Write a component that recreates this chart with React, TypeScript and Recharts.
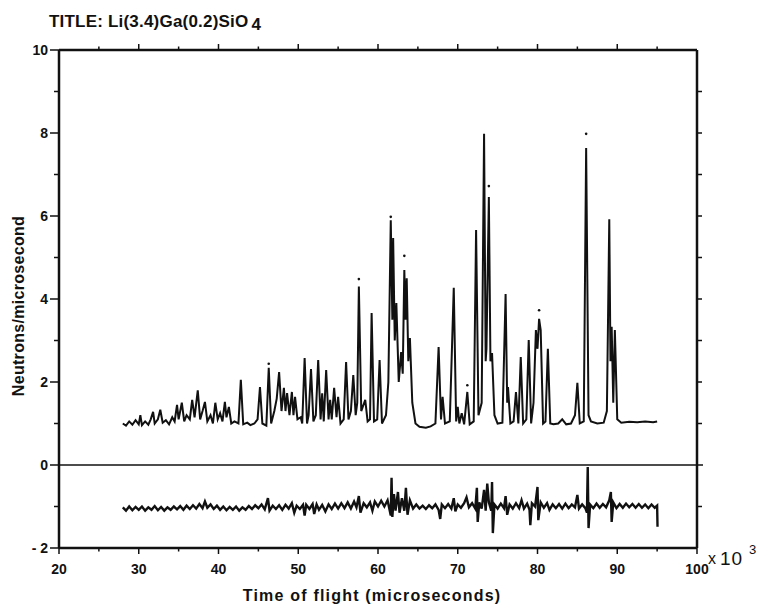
import React from 'react';
import { ComposedChart, Line, XAxis, YAxis, ReferenceLine } from 'recharts';

const xTicks = [20, 25, 30, 35, 40, 45, 50, 55, 60, 65, 70, 75, 80, 85, 90, 95, 100];
const xLabelled = [20, 30, 40, 50, 60, 70, 80, 90, 100];
const yTicks = [-2, -1, 0, 1, 2, 3, 4, 5, 6, 7, 8, 9, 10];
const yLabelled = [-2, 0, 2, 4, 6, 8, 10];

// observed profile: time of flight (x 10^3 microseconds), neutrons/microsecond
const observed: [number, number][] = [
  [28.0, 1.0], [28.4, 0.95], [28.8, 1.05], [29.2, 0.97], [29.6, 1.08], [30.0, 0.98], [30.2, 1.2], [30.4, 0.96],
  [30.8, 1.05], [31.2, 0.97], [31.5, 1.1], [31.8, 1.28], [32.0, 1.0], [32.4, 1.1], [32.7, 1.33], [33.0, 1.02],
  [33.4, 1.08], [33.8, 0.98], [34.2, 1.15], [34.5, 1.05], [34.8, 1.45], [35.0, 1.1], [35.4, 1.5], [35.7, 1.05],
  [36.0, 1.2], [36.4, 1.1], [36.7, 1.57], [37.0, 1.15], [37.4, 1.8], [37.7, 1.1], [38.0, 1.3], [38.3, 1.52],
  [38.6, 1.05], [39.0, 1.2], [39.3, 1.0], [39.6, 1.5], [39.9, 1.1], [40.2, 1.25], [40.5, 1.05], [40.8, 1.52],
  [41.0, 1.15], [41.3, 1.4], [41.6, 1.0], [42.0, 1.05], [42.5, 1.0], [42.8, 2.05], [43.1, 0.98], [43.6, 1.02],
  [44.0, 0.96], [44.5, 1.0], [44.9, 1.1], [45.2, 1.88], [45.5, 1.0], [46.0, 0.95], [46.3, 2.34], [46.6, 1.0],
  [47.0, 1.3], [47.3, 1.6], [47.6, 2.24], [47.9, 1.3], [48.2, 1.86], [48.4, 1.3], [48.6, 1.73], [48.9, 1.2],
  [49.2, 1.76], [49.4, 1.2], [49.6, 1.64], [49.9, 1.1], [50.3, 1.15], [50.5, 1.0], [50.8, 2.58], [51.1, 1.0],
  [51.3, 1.2], [51.6, 2.31], [51.9, 1.05], [52.2, 1.2], [52.5, 2.53], [52.8, 1.1], [53.0, 1.73], [53.2, 1.05],
  [53.5, 2.29], [53.8, 1.1], [54.0, 1.57], [54.2, 1.1], [54.5, 1.86], [54.8, 1.15], [55.0, 1.64], [55.3, 1.0],
  [55.7, 1.1], [56.0, 2.48], [56.3, 1.1], [56.6, 1.3], [56.9, 2.17], [57.2, 1.2], [57.4, 1.5], [57.6, 4.3],
  [57.9, 1.3], [58.4, 1.57], [58.7, 1.05], [59.0, 1.1], [59.2, 3.66], [59.5, 1.05], [59.9, 1.1], [60.2, 2.53],
  [60.5, 1.0], [61.0, 1.2], [61.3, 2.0], [61.6, 5.9], [61.8, 3.5], [61.9, 5.47], [62.1, 3.0], [62.3, 3.9],
  [62.6, 2.0], [62.9, 2.72], [63.1, 2.2], [63.3, 4.7], [63.45, 3.5], [63.6, 4.5], [63.8, 2.5], [64.0, 3.06],
  [64.3, 1.5], [64.7, 1.0], [65.2, 0.92], [66.0, 0.9], [66.6, 0.93], [67.2, 1.0], [67.6, 2.84], [67.9, 1.1],
  [68.1, 1.64], [68.4, 1.0], [69.0, 1.05], [69.5, 4.27], [69.8, 1.05], [70.0, 1.4], [70.2, 1.0], [70.5, 1.25],
  [70.8, 0.98], [71.2, 1.76], [71.5, 0.98], [72.0, 1.05], [72.3, 5.66], [72.6, 1.2], [73.0, 1.5], [73.3, 7.98],
  [73.5, 2.5], [73.6, 2.8], [73.9, 6.46], [74.1, 2.5], [74.3, 2.7], [74.6, 1.2], [75.0, 1.0], [75.6, 1.02],
  [76.0, 4.12], [76.2, 1.5], [76.3, 1.88], [76.6, 1.0], [77.0, 1.05], [77.3, 1.76], [77.6, 1.0], [77.9, 2.6],
  [78.2, 1.0], [78.6, 1.1], [78.9, 3.01], [79.2, 1.0], [79.5, 1.5], [79.8, 3.25], [80.0, 2.8], [80.2, 3.52],
  [80.4, 3.25], [80.7, 1.0], [81.0, 1.05], [81.3, 2.8], [81.6, 1.0], [82.0, 0.98], [82.6, 1.0], [83.1, 1.1],
  [83.6, 0.98], [84.2, 1.0], [84.7, 1.2], [85.0, 1.98], [85.3, 1.0], [85.8, 1.05], [86.1, 7.64], [86.4, 1.2],
  [86.7, 1.05], [87.5, 1.0], [88.3, 1.02], [88.7, 1.3], [89.0, 5.92], [89.15, 2.5], [89.3, 3.33], [89.5, 1.5],
  [89.7, 3.25], [90.0, 1.1], [90.5, 1.02], [91.5, 1.04], [92.5, 1.03], [93.5, 1.05], [94.5, 1.03], [95.0, 1.05],
];

// single observed points above the peak tops
const peakDots: [number, number][] = [
  [46.3, 2.44], [57.6, 4.48], [61.6, 5.98], [63.3, 5.04], [71.2, 1.92], [73.9, 6.72], [80.2, 3.73], [86.1, 7.98],
];

// difference curve (offset to -1)
const difference: [number, number][] = [
  [28.0, -1.02], [28.4, -1.1], [28.8, -1.0], [29.2, -1.09], [29.6, -1.01], [30.0, -1.08], [30.4, -1.0], [30.8, -1.1],
  [31.2, -1.02], [31.6, -1.08], [32.0, -0.99], [32.4, -1.09], [32.8, -1.01], [33.2, -1.1], [33.6, -1.02], [34.0, -1.08],
  [34.4, -1.0], [34.8, -1.07], [35.2, -0.99], [35.6, -1.08], [36.0, -0.98], [36.4, -1.06], [36.8, -0.97], [37.2, -1.05],
  [37.6, -0.94], [38.0, -1.04], [38.3, -0.88], [38.6, -1.03], [39.0, -0.95], [39.4, -1.06], [39.8, -0.98], [40.2, -1.08],
  [40.6, -1.0], [41.0, -1.09], [41.4, -1.01], [41.8, -1.08], [42.2, -1.0], [42.6, -1.1], [43.0, -1.02], [43.4, -1.08],
  [43.8, -0.99], [44.2, -1.06], [44.6, -0.97], [45.0, -1.04], [45.4, -0.95], [45.8, -1.07], [46.2, -0.8], [46.4, -1.1],
  [46.8, -0.98], [47.2, -1.06], [47.6, -0.97], [48.0, -1.08], [48.4, -0.96], [48.8, -1.05], [49.2, -0.92], [49.5, -1.15],
  [49.8, -0.98], [50.2, -1.06], [50.6, -0.96], [50.8, -1.22], [51.0, -0.96], [51.4, -1.06], [51.8, -0.94], [52.0, -1.18],
  [52.3, -0.95], [52.6, -1.08], [53.0, -0.96], [53.4, -1.12], [53.8, -0.95], [54.2, -1.06], [54.6, -0.93], [55.0, -1.05],
  [55.4, -0.92], [55.8, -1.04], [56.2, -0.9], [56.6, -1.05], [57.0, -0.88], [57.3, -1.02], [57.6, -0.75], [57.8, -1.15],
  [58.2, -0.92], [58.6, -1.02], [59.0, -0.9], [59.3, -1.1], [59.6, -0.88], [60.0, -1.0], [60.4, -0.86], [60.8, -1.0],
  [61.2, -0.85], [61.6, -1.22], [61.7, -0.31], [61.8, -1.25], [62.0, -0.7], [62.2, -1.1], [62.5, -0.65], [62.7, -1.15],
  [63.0, -0.8], [63.3, -1.1], [63.5, -0.55], [63.7, -1.2], [64.0, -0.85], [64.4, -1.05], [64.8, -0.95], [65.2, -1.05],
  [65.6, -0.98], [66.0, -1.06], [66.4, -0.97], [66.8, -1.04], [67.2, -0.95], [67.6, -1.08], [67.8, -1.3], [68.0, -0.95],
  [68.4, -1.04], [68.8, -0.94], [69.2, -1.05], [69.5, -0.8], [69.7, -1.12], [70.0, -0.95], [70.4, -1.03], [70.8, -0.92],
  [71.1, -0.78], [71.4, -1.02], [71.8, -0.92], [72.2, -1.05], [72.4, -0.55], [72.5, -1.37], [72.7, -0.9], [73.0, -1.05],
  [73.3, -0.6], [73.5, -1.1], [73.7, -0.45], [73.9, -0.9], [74.2, -1.1], [74.3, -0.41], [74.4, -1.64], [74.6, -0.95],
  [75.0, -1.05], [75.4, -0.93], [75.8, -1.04], [76.0, -0.75], [76.2, -1.2], [76.5, -0.95], [76.9, -1.05], [77.3, -0.92],
  [77.7, -1.04], [78.0, -0.85], [78.3, -1.05], [78.7, -0.93], [79.0, -1.08], [79.1, -1.45], [79.3, -0.92], [79.7, -1.0],
  [80.0, -0.53], [80.1, -1.33], [80.4, -0.9], [80.8, -1.03], [81.2, -0.92], [81.5, -1.08], [81.9, -0.95], [82.3, -1.04],
  [82.7, -0.94], [83.1, -1.05], [83.5, -0.93], [83.9, -1.04], [84.3, -0.95], [84.7, -1.02], [85.0, -0.72], [85.2, -1.05],
  [85.6, -0.95], [86.0, -1.04], [86.2, -1.15], [86.3, -0.05], [86.4, -1.52], [86.6, -0.95], [87.0, -1.04], [87.4, -0.93],
  [87.8, -1.03], [88.2, -0.94], [88.6, -1.02], [89.0, -0.85], [89.2, -0.65], [89.3, -1.37], [89.5, -0.9], [89.9, -1.04],
  [90.3, -0.94], [90.7, -1.03], [91.1, -0.93], [91.5, -1.02], [91.9, -0.94], [92.3, -1.03], [92.7, -0.94], [93.1, -1.03],
  [93.5, -0.95], [93.9, -1.04], [94.3, -0.95], [94.7, -1.03], [95.0, -0.98], [95.05, -1.49],
];

const toRows = (arr: [number, number][]) => arr.map(([t, v]) => ({ t, v }));
const observedRows = toRows(observed);
const differenceRows = toRows(difference);
const dotRows = toRows(peakDots);

const FONT = '"Liberation Sans", Arial, sans-serif';
const INK = '#111';
const CHART_W = 762;
const CHART_H = 598;
const MARGIN = { top: 42, right: 73, bottom: 28, left: 0 };
const Y_AXIS_W = 51;
const X_AXIS_H = 30;
const PLOT_W = CHART_W - MARGIN.left - MARGIN.right - Y_AXIS_W;
const PLOT_H = CHART_H - MARGIN.top - MARGIN.bottom - X_AXIS_H;
const labelStyle = { fontSize: 14, fill: INK, fontFamily: FONT, fontWeight: 700 } as const;

// bottom axis tick: draws bottom tick (outward), matching top-frame tick, and label
const XTick = (props: any) => {
  const { x, y, payload } = props;
  const v = payload.value as number;
  const major = xLabelled.includes(v);
  const topY = y - PLOT_H;
  return (
    <g>
      <line x1={x} x2={x} y1={y} y2={y + (major ? 6 : 3.5)} stroke={INK} strokeWidth={1.5} />
      {v !== 20 && v !== 100 && (
        <line x1={x} x2={x} y1={topY} y2={topY - (major ? 6 : 3.5)} stroke={INK} strokeWidth={1.5} />
      )}
      {major && (
        <text x={x} y={y + 26} textAnchor="middle" {...labelStyle}>{v}</text>
      )}
    </g>
  );
};

// left axis tick: draws left tick (outward), right-frame tick, and label
const YTick = (props: any) => {
  const { x, y, payload } = props;
  const v = payload.value as number;
  const major = yLabelled.includes(v);
  const rightX = x + PLOT_W;
  return (
    <g>
      <line x1={x} x2={x - (major ? 9 : 5)} y1={y} y2={y} stroke={INK} strokeWidth={1.5} />
      {v !== -2 && v !== 10 && (
        <line x1={rightX} x2={rightX + (v === 0 ? 6 : 5)} y1={y} y2={y} stroke={INK} strokeWidth={1.5} />
      )}
      {major && (
        <text x={x - 11} y={y} dy="0.36em" textAnchor="end" {...labelStyle}>{v < 0 ? `- ${Math.abs(v)}` : v}</text>
      )}
    </g>
  );
};

export default function App() {
  return (
    <div style={{ position: 'relative', width: CHART_W, height: CHART_H, fontFamily: FONT, color: INK }}>
      <ComposedChart width={CHART_W} height={CHART_H} margin={MARGIN}>
        <XAxis
          dataKey="t"
          type="number"
          domain={[20, 100]}
          ticks={xTicks}
          interval={0}
          allowDataOverflow
          height={X_AXIS_H}
          tickSize={0}
          tickMargin={0}
          tickLine={false}
          tick={XTick}
          axisLine={{ stroke: INK, strokeWidth: 2.5 }}
        />
        <YAxis
          type="number"
          domain={[-2, 10]}
          ticks={yTicks}
          interval={0}
          allowDataOverflow
          width={Y_AXIS_W}
          tickSize={0}
          tickMargin={0}
          tickLine={false}
          tick={YTick}
          axisLine={{ stroke: INK, strokeWidth: 2.5 }}
        />
        <ReferenceLine y={10} stroke={INK} strokeWidth={2.5} />
        <ReferenceLine x={100} stroke={INK} strokeWidth={2.5} />
        <ReferenceLine y={0} stroke={INK} strokeWidth={1.3} />
        <Line data={observedRows} dataKey="v" type="linear" stroke={INK} strokeWidth={2} dot={false}
          isAnimationActive={false} />
        <Line data={differenceRows} dataKey="v" type="linear" stroke={INK} strokeWidth={2.4} dot={false}
          isAnimationActive={false} />
        <Line data={dotRows} dataKey="v" stroke="none" dot={{ r: 1.3, fill: INK, stroke: 'none' }}
          isAnimationActive={false} />
      </ComposedChart>
      <div style={{ position: 'absolute', left: 41, top: 4, fontSize: 17, fontWeight: 700, whiteSpace: 'nowrap', letterSpacing: 0.2 }}>
        TITLE: Li(3.4)Ga(0.2)SiO<span style={{ position: 'relative', top: 3, marginLeft: 3 }}>4</span>
      </div>
      <div style={{ position: 'absolute', left: 10.5, top: 298, transform: 'translate(-50%, -50%) rotate(-90deg)', fontSize: 16, fontWeight: 700, whiteSpace: 'nowrap', letterSpacing: 0.3 }}>
        Neutrons/microsecond
      </div>
      <div style={{ position: 'absolute', left: 364, top: 588, transform: 'translate(-50%, -50%)', fontSize: 16, fontWeight: 700, whiteSpace: 'nowrap', letterSpacing: 1.2 }}>
        Time of flight (microseconds)
      </div>
      <span style={{ position: 'absolute', left: 700, top: 543, fontSize: 16, lineHeight: 1 }}>x</span>
      <span style={{ position: 'absolute', left: 712, top: 541, fontSize: 19, lineHeight: 1, letterSpacing: 1 }}>10</span>
      <span style={{ position: 'absolute', left: 741, top: 535, fontSize: 13, lineHeight: 1 }}>3</span>
    </div>
  );
}
